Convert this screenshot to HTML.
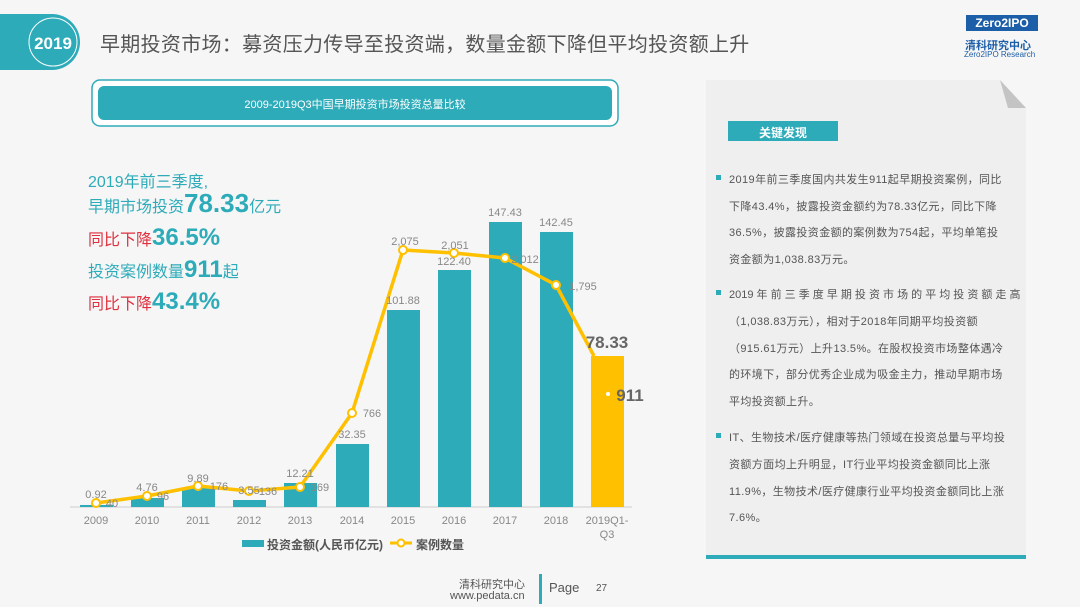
<!DOCTYPE html>
<html><head><meta charset="utf-8"><style>
body{margin:0;width:1080px;height:607px;background:#f6f6f6;position:relative;overflow:hidden;font-family:"Liberation Sans","Noto Sans CJK SC",sans-serif}
.a{position:absolute;white-space:nowrap}
.p{font-size:11px;color:#555;letter-spacing:0.4px}
</style></head><body>
<svg class="a" style="left:0;top:0" width="1080" height="607">
<path d="M0 14 H52 A28 28 0 0 1 52 70 H0 Z" fill="#2eabb9"/>
<circle cx="53" cy="42" r="24" fill="#2eabb9" stroke="#fff" stroke-width="1"/>
<text x="53" y="49" fill="#fff" font-size="17" font-weight="bold" text-anchor="middle" font-family="Liberation Sans">2019</text>
<rect x="92" y="80" width="526" height="46" rx="8" fill="#fff" stroke="#2eabb9" stroke-width="1.5"/>
<rect x="98" y="86" width="514" height="34" rx="6" fill="#2eabb9"/>
<rect x="706" y="80" width="320" height="478" fill="#efefef"/>
<polygon points="1000,80 1026,80 1026,108" fill="#f6f6f6"/>
<polygon points="1000,80 1026,108 1008,108" fill="#c4c4c4"/>
<rect x="706" y="555" width="320" height="4" fill="#2eabb9"/>
<rect x="728" y="121" width="110" height="20" fill="#2eabb9"/>
<g fill="#2eabb9"><rect x="716" y="175" width="5" height="5"/><rect x="716" y="290" width="5" height="5"/><rect x="716" y="433" width="5" height="5"/></g>
<line x1="70" y1="507" x2="632" y2="507" stroke="#ccc" stroke-width="1"/>
<g fill="#2eabb9">
<rect x="80" y="505" width="33" height="2"/>
<rect x="131" y="498" width="33" height="9"/>
<rect x="182" y="488" width="33" height="19"/>
<rect x="233" y="500" width="33" height="7"/>
<rect x="284" y="483" width="33" height="24"/>
<rect x="336" y="444" width="33" height="63"/>
<rect x="387" y="310" width="33" height="197"/>
<rect x="438" y="270" width="33" height="237"/>
<rect x="489" y="222" width="33" height="285"/>
<rect x="540" y="232" width="33" height="275"/>
</g>
<rect x="591" y="356" width="33" height="151" fill="#ffc000"/>
<polyline points="96,503 147,496 198,486 249,491 300,487 352,413 403,250 454,253 505,258 556,285 594,356" fill="none" stroke="#ffc000" stroke-width="3.5" stroke-linejoin="round"/>
<g fill="#fff" stroke="#ffc000" stroke-width="2">
<circle cx="96" cy="503" r="4"/><circle cx="147" cy="496" r="4"/><circle cx="198" cy="486" r="4"/><circle cx="249" cy="491" r="4"/><circle cx="300" cy="487" r="4"/><circle cx="352" cy="413" r="4"/><circle cx="403" cy="250" r="4"/><circle cx="454" cy="253" r="4"/><circle cx="505" cy="258" r="4"/><circle cx="556" cy="285" r="4"/></g>
<circle cx="608" cy="394" r="2" fill="#fff"/>
<g font-size="11" fill="#888" text-anchor="middle" font-family="Liberation Sans">
<text x="96" y="498">0.92</text><text x="147" y="491">4.76</text><text x="198" y="482">9.89</text><text x="249" y="494">3.55</text><text x="300" y="477">12.21</text><text x="352" y="438">32.35</text><text x="403" y="304">101.88</text><text x="454" y="265">122.40</text><text x="505" y="216">147.43</text><text x="556" y="226">142.45</text>
<text x="112" y="507">40</text><text x="163" y="500">96</text><text x="219" y="490">176</text><text x="268" y="495">136</text><text x="320" y="491">169</text><text x="372" y="417">766</text><text x="405" y="245">2,075</text><text x="455" y="249">2,051</text><text x="525" y="263">2,012</text><text x="583" y="290">1,795</text>
<text x="96" y="524">2009</text><text x="147" y="524">2010</text><text x="198" y="524">2011</text><text x="249" y="524">2012</text><text x="300" y="524">2013</text><text x="352" y="524">2014</text><text x="403" y="524">2015</text><text x="454" y="524">2016</text><text x="505" y="524">2017</text><text x="556" y="524">2018</text><text x="607" y="524">2019Q1-</text><text x="607" y="538">Q3</text>
</g>
<text x="607" y="348" font-size="17" font-weight="bold" fill="#666" text-anchor="middle" font-family="Liberation Sans">78.33</text>
<text x="630" y="401" font-size="17" font-weight="bold" fill="#666" text-anchor="middle" font-family="Liberation Sans">911</text>
<rect x="242" y="540" width="22" height="7" fill="#2eabb9"/>
<line x1="390" y1="543" x2="412" y2="543" stroke="#ffc000" stroke-width="3"/><circle cx="401" cy="543" r="3.5" fill="#fff" stroke="#ffc000" stroke-width="2"/>
<rect x="539" y="574" width="3" height="30" fill="#2eabb9"/>
</svg>
<div class="a" style="left:100px;top:28px;font-size:20px;color:#555;letter-spacing:0.3px">早期投资市场：募资压力传导至投资端，数量金额下降但平均投资额上升</div>
<div class="a" style="left:966px;top:15px;width:72px;height:16px;background:#1d5ea8;color:#fff;font-size:12px;font-weight:bold;text-align:center;line-height:16px">Zero2IPO</div>
<div class="a" style="left:965px;top:37px;font-size:11px;font-weight:bold;color:#1d5ea8">清科研究中心</div>
<div class="a" style="left:964px;top:50px;font-size:8px;color:#1d5ea8">Zero2IPO Research</div>
<div class="a" style="left:98px;top:96px;width:514px;text-align:center;font-size:11px;color:#fff">2009-2019Q3中国早期投资市场投资总量比较</div>
<div class="a" style="left:728px;top:124px;width:110px;text-align:center;font-size:12px;color:#fff;font-weight:bold">关键发现</div>
<div class="a" style="left:88px;top:168px;font-size:16px;color:#2eabb9">2019年前三季度,</div>
<div class="a" style="left:88px;top:188px;font-size:16px;color:#2eabb9;line-height:30px">早期市场投资<b style="font-size:26px">78.33</b>亿元</div>
<div class="a" style="left:88px;top:223px;font-size:16px;color:#e03040;line-height:30px">同比下降<b style="font-size:24px;color:#2eabb9">36.5%</b></div>
<div class="a" style="left:88px;top:255px;font-size:16px;color:#2eabb9;line-height:30px">投资案例数量<b style="font-size:24px">911</b>起</div>
<div class="a" style="left:88px;top:287px;font-size:16px;color:#e03040;line-height:30px">同比下降<b style="font-size:24px;color:#2eabb9">43.4%</b></div>
<div class="a" style="left:267px;top:536px;font-size:12px;color:#555;font-weight:bold">投资金额(人民币亿元)</div>
<div class="a" style="left:416px;top:536px;font-size:12px;color:#555;font-weight:bold">案例数量</div>
<div class="a p" style="left:729px;top:171px">2019年前三季度国内共发生911起早期投资案例，同比</div>
<div class="a p" style="left:729px;top:198px">下降43.4%，披露投资金额约为78.33亿元，同比下降</div>
<div class="a p" style="left:729px;top:224px">36.5%，披露投资金额的案例数为754起，平均单笔投</div>
<div class="a p" style="left:729px;top:251px">资金额为1,038.83万元。</div>
<div class="a p" style="left:729px;top:286px;letter-spacing:0">2019 年 前 三 季 度 早 期 投 资 市 场 的 平 均 投 资 额 走 高</div>
<div class="a p" style="left:729px;top:313px">（1,038.83万元），相对于2018年同期平均投资额</div>
<div class="a p" style="left:729px;top:340px">（915.61万元）上升13.5%。在股权投资市场整体遇冷</div>
<div class="a p" style="left:729px;top:366px">的环境下，部分优秀企业成为吸金主力，推动早期市场</div>
<div class="a p" style="left:729px;top:393px">平均投资额上升。</div>
<div class="a p" style="left:729px;top:429px">IT、生物技术/医疗健康等热门领域在投资总量与平均投</div>
<div class="a p" style="left:729px;top:456px">资额方面均上升明显，IT行业平均投资金额同比上涨</div>
<div class="a p" style="left:729px;top:483px">11.9%，生物技术/医疗健康行业平均投资金额同比上涨</div>
<div class="a p" style="left:729px;top:509px">7.6%。</div>
<div class="a" style="left:459px;top:576px;font-size:11px;color:#555">清科研究中心</div>
<div class="a" style="left:450px;top:590px;font-size:11px;color:#555">www.pedata.cn</div>
<div class="a" style="left:549px;top:580px;font-size:13px;color:#555">Page</div>
<div class="a" style="left:596px;top:583px;font-size:10px;color:#555">27</div>
</body></html>
